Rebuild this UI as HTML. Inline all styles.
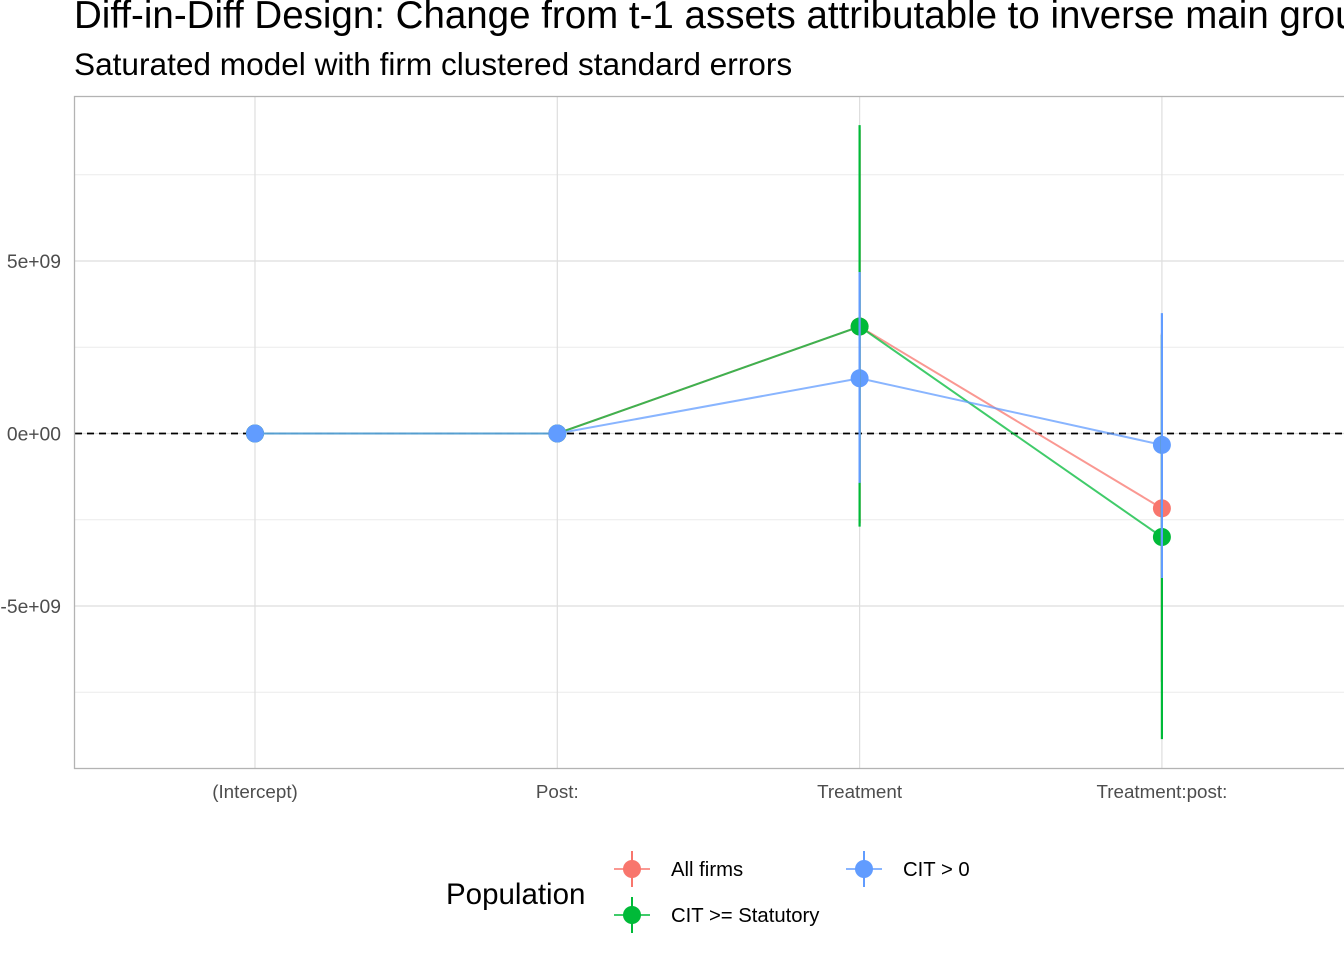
<!DOCTYPE html>
<html><head><meta charset="utf-8"><style>
body{margin:0;background:#fff;width:1344px;height:960px;overflow:hidden;font-family:"Liberation Sans",sans-serif}
</style></head><body>
<svg id="c" width="1344" height="960" xmlns="http://www.w3.org/2000/svg">
<text x="74" y="28" font-size="38.5" fill="#000">Diff-in-Diff Design: Change from t-1 assets attributable to inverse main group</text>
<text x="74" y="75" font-size="31.6" fill="#000">Saturated model with firm clustered standard errors</text>
<g id="grid"></g>
<g id="marks"></g>
<rect x="74.5" y="96.5" width="1275" height="672" fill="none" stroke="#b3b3b3" stroke-width="1.3"/>
<g id="legend">
<text x="446" y="904" font-size="29.5">Population</text>
</g>
</svg>
<script>
const categories=["(Intercept)","Post:","Treatment","Treatment:post:"];
const seriesNames=["All firms","CIT >= Statutory","CIT > 0"];
const colors=["#F8766D","#00BA38","#619CFF"];
const estAll=[0,0,3.1e9,-2.17e9];
const lowAll=[0,0,-2.6e9,-7.2e9];
const highAll=[0,0,8.8e9,2.9e9];
const estCit=[0,0,3.1e9,-3.0e9];
const lowCit=[0,0,-2.7e9,-8.86e9];
const highCit=[0,0,8.94e9,2.86e9];
const estPos=[0,0,1.6e9,-0.33e9];
const lowPos=[0,0,-1.43e9,-4.19e9];
const highPos=[0,0,4.68e9,3.49e9];
const yTicks=[-5e9,0,5e9];
const yTickLabels=["-5e+09","0e+00","5e+09"];
const yMinor=[-7.5e9,-2.5e9,2.5e9,7.5e9];
const ns="http://www.w3.org/2000/svg";
const X=i=>255+i*302.3;
const Y=v=>433.5-v/1e9*34.5;
function mk(t,a,p){const e=document.createElementNS(ns,t);for(const k in a)e.setAttribute(k,a[k]);p.appendChild(e);return e;}
const grid=document.getElementById('grid'),marks=document.getElementById('marks'),svg=document.getElementById('c');
yMinor.forEach(v=>{const l=mk('line',{x1:75,x2:1344,y1:Y(v),y2:Y(v),stroke:'#ebebeb','stroke-width':1},grid);

});
yTicks.forEach((v,i)=>{const l=mk('line',{x1:75,x2:1344,y1:Y(v),y2:Y(v),stroke:'#dedede','stroke-width':1.2},grid);


const t=mk('text',{x:61,y:Y(v)+7,'font-size':19.3,fill:'#4d4d4d','text-anchor':'end'},svg);t.textContent=yTickLabels[i];

});
categories.forEach((c,i)=>{const l=mk('line',{x1:X(i),x2:X(i),y1:97,y2:768,stroke:'#dedede','stroke-width':1.2},grid);


const t=mk('text',{x:X(i),y:798,'font-size':18.8,fill:'#4d4d4d','text-anchor':'middle'},svg);t.textContent=c;

});
const zl=mk('line',{x1:75,x2:1344,y1:Y(0),y2:Y(0),stroke:'#000','stroke-width':1.8,'stroke-dasharray':'7,5'},marks);


const S=[[estAll,lowAll,highAll],[estCit,lowCit,highCit],[estPos,lowPos,highPos]];
S.forEach((s,k)=>{const pl=mk('polyline',{points:s[0].map((v,i)=>X(i)+','+Y(v)).join(' '),fill:'none',stroke:colors[k],'stroke-width':2,'stroke-opacity':0.75},marks);

});
S.forEach((s,k)=>{s[0].forEach((v,i)=>{const c=mk('circle',{cx:X(i),cy:Y(v),r:9,fill:colors[k]},marks);

});});
S.forEach((s,k)=>{s[0].forEach((v,i)=>{if(s[1][i]===s[2][i])return;const e=mk('line',{x1:X(i),x2:X(i),y1:Y(s[1][i]),y2:Y(s[2][i]),stroke:colors[k],'stroke-width':2.2},marks);

});});
const lg=document.getElementById('legend');
const lpos=[[632,869,671],[632,915,671],[864,869,903]];
seriesNames.forEach((n,k)=>{const [cx,cy,tx]=lpos[k];const g=mk('g',{},lg);


mk('line',{x1:cx-18,x2:cx+18,y1:cy,y2:cy,stroke:colors[k],'stroke-width':2,'stroke-opacity':0.75},g);
mk('line',{x1:cx,x2:cx,y1:cy-18,y2:cy+18,stroke:colors[k],'stroke-width':2},g);
mk('circle',{cx:cx,cy:cy,r:9,fill:colors[k]},g);
const t=mk('text',{x:tx,y:cy+7,'font-size':20.3},g);t.textContent=n;});
</script>
</body></html>
